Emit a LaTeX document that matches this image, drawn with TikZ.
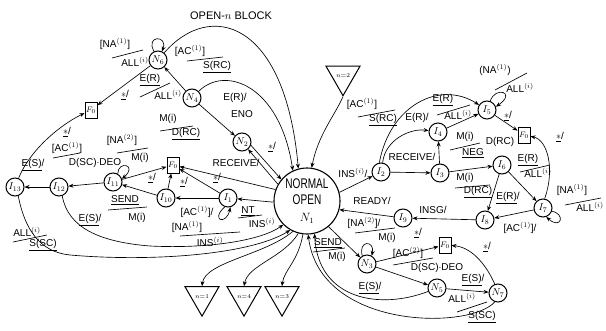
\documentclass[tikz,border=0pt]{standalone}
\usepackage{fontspec}
\setmainfont{Liberation Sans}
\newfontfamily\narrowfont[FakeStretch=0.72]{Liberation Sans}
\usetikzlibrary{arrows.meta,shapes.geometric}
\begin{document}
\begin{tikzpicture}[x=1pt,y=-1pt,
  st/.style={circle,draw,line width=1pt,minimum size=18pt,inner sep=0pt,font=\fontsize{10}{10}\selectfont},
  bigst/.style={circle,draw,line width=1.1pt,minimum size=66pt,inner sep=0pt,align=center,font=\narrowfont\fontsize{14}{15}\selectfont},
  fb/.style={rectangle,draw,line width=1pt,minimum width=12pt,minimum height=16pt,inner sep=0pt,font=\fontsize{8}{8}\selectfont},
  tri/.style={regular polygon,regular polygon sides=3,shape border rotate=180,draw,line width=1pt,minimum size=33pt,inner sep=0pt,font=\fontsize{6}{6}\selectfont},
  lb/.style={inner sep=0pt,font=\fontsize{10}{10}\selectfont},
  ed/.style={line width=0.65pt,-{Stealth[length=5pt,width=4pt]}},
  fr/.style={line width=0.65pt}
]
\useasboundingbox (0,0) rectangle (606,330);
% title
\node[inner sep=0pt,font=\fontsize{11}{11}\selectfont] (title) at (231,16) {OPEN-$n$ BLOCK};
% states
\node[bigst] (N1) at (307,201) {NORMAL\\[1pt]OPEN\\[2pt]{\fontsize{12}{12}\selectfont$N_1$}};
\node[st] (N2) at (242,142) {$N_2$};
\node[st] (N4) at (192,98) {$N_4$};
\node[st] (N6) at (158,60) {$N_6$};
\node[st] (N3) at (367,264) {$N_3$};
\node[st] (N5) at (437,288) {$N_5$};
\node[st] (N7) at (498,293) {$N_7$};
\node[st] (I1) at (228,198) {$I_1$};
\node[st] (I10) at (166,198) {$I_{10}$};
\node[st] (I11) at (113,182) {$I_{11}$};
\node[st] (I12) at (59,187) {$I_{12}$};
\node[st] (I13) at (15,187) {$I_{13}$};
\node[st] (I2) at (381,172) {$I_2$};
\node[st] (I3) at (440,173) {$I_3$};
\node[st] (I4) at (438,132) {$I_4$};
\node[st] (I5) at (487,110) {$I_5$};
\node[st] (I6) at (502,165) {$I_6$};
\node[st] (I7) at (543,208) {$I_7$};
\node[st] (I8) at (485,220) {$I_8$};
\node[st] (I9) at (403,218) {$I_9$};
\node[fb] (F1) at (173,165) {$F_0$};
\node[fb] (F2) at (91,110) {$F_0$};
\node[fb] (F4) at (524,135) {$F_0$};
\node[fb] (F3) at (445,245) {$F_0$};
\node[tri,minimum size=34pt] (t2) at (343,76) {$n{=}2$};
\node[tri] (t1) at (202,296.5) {$n{=}1$};
\node[tri] (t4) at (244,296.5) {$n{=}4$};
\node[tri] (t3) at (282,296.5) {$n{=}3$};
% left connectors
\draw[ed] (I12) -- (I13);
\draw[ed] (I11) -- (I12);
\draw[ed] (I11) -- (F1);
\draw[ed] (I10) -- (I11);
\draw[ed] (I1) -- (I10);
\draw[ed] (N1.182) -- (I1);
\draw[ed] (I10) -- (F1);
\draw[ed] (I1) -- (F1);
\draw[ed] (N1.160) -- (F1);
\draw[ed] (I11.60) .. controls (118,160) and (138,165) .. (I11.20);
\draw[ed] (I1.250) .. controls (210,220) and (226,226) .. (I1.285);
\draw[ed] (I13) .. controls (30,150) and (60,125) .. (F2);
\draw[ed] (N6) -- (F2);
\draw[ed] (N4) -- (N6);
\draw[ed] (N6.115) .. controls (145,35) and (168,35) .. (N6.65);
\draw[ed] (N6) .. controls (210,0) and (285,20) .. (N1.105);
\draw[ed] (N4) .. controls (225,65) and (280,85) .. (N1.115);
\draw[ed] (N4) -- (N2);
\draw[ed] (N2.-20) -- (N1.140);
\draw[ed] (N1.150) -- (N2.-50);
\draw[ed] (t2.south) .. controls (335,115) and (318,135) .. (N1.82);
\draw[ed] (I13.-70) .. controls (25,230) and (40,252) .. (70,255) .. controls (150,262) and (250,255) .. (N1.240);
\draw[ed] (I12.-70) .. controls (68,228) and (100,242) .. (150,246) .. controls (210,249) and (262,240) .. (N1.225);
\draw[ed] (N1.245) .. controls (265,255) and (205,262) .. (t1.north);
\draw[ed] (N1.255) .. controls (283,258) and (248,265) .. (t4.north);
\draw[ed] (N1.263) .. controls (298,262) and (284,270) .. (t3.north);
% right connectors
\draw[ed] (N1.15) -- (I2);
\draw[ed] (I2) -- (I3);
\draw[ed] (I3) -- (I4);
\draw[ed] (I4) -- (I5);
\draw[ed] (I5) -- (F4);
\draw[ed] (I5.70) .. controls (495,86) and (517,92) .. (I5.20);
\draw[ed] (I3) -- (I6);
\draw[ed] (I6) -- (I7);
\draw[ed] (I6) -- (I8);
\draw[ed] (I7) -- (I8);
\draw[ed] (I7.80) .. controls (555,170) and (548,140) .. (F4);
\draw[ed] (I7.-20) .. controls (566,214) and (561,230) .. (I7.-70);
\draw[ed] (I8) -- (I9);
\draw[ed] (I9) -- (N1.-15);
\draw[ed] (I2.80) .. controls (385,140) and (410,128) .. (I4);
\draw[ed] (I2.100) .. controls (390,105) and (440,80) .. (I5);
\draw[ed] (N1.-50) -- (N3);
\draw[ed] (N3.120) .. controls (358,240) and (375,240) .. (N3.60);
\draw[ed] (N3) -- (F3);
\draw[ed] (N3) -- (N5);
\draw[ed] (N5) -- (N7);
\draw[ed] (N7.110) .. controls (485,262) and (470,247) .. (F3);
\draw[ed] (N5) .. controls (380,310) and (318,300) .. (N1.283);
\draw[ed] (N7.250) .. controls (470,330) and (320,330) .. (N1.272);
% labels left
\node[lb] (a1) at (115,44) {[NA$^{(1)}$]};
\node[lb] (a2) at (135,62) {ALL$^{(i)}$};
\draw[fr] (112,58) -- (143,50);
\node[lb] (a3) at (190,51) {[AC$^{(1)}$]};
\node[lb] (a4) at (217,67) {\underline{S(RC)}};
\draw[fr] (187,61) -- (223,57);
\node[lb] (a5) at (150,80) {\underline{E(R)}};
\node[lb] (a6) at (168,95) {ALL$^{(i)}$};
\draw[fr] (140,97) -- (170,83);
\node[lb] (a7) at (125,95) {\underline{$\ast$}/};
\node[lb] (a8) at (168,119) {M(i)};
\node[lb] (a9) at (186,134) {\underline{D(RC)}};
\draw[fr] (160,131) -- (193,126);
\node[lb] (a10) at (235,98) {E(R)/};
\node[lb] (a11) at (242,114) {ENO};
\node[lb] (a12) at (272,147) {\underline{$\ast$}/};
\node[lb] (a13) at (236,163) {RECEIVE/};
\node[lb] (a14) at (217,178) {\underline{$\ast$}/};
\node[lb] (a15) at (184,182) {\underline{$\ast$}/};
\node[lb] (a16) at (152,178) {\underline{$\ast$}/};
\node[lb] (a17) at (122,140) {[NA$^{(2)}$]};
\node[lb] (a18) at (140,158) {M(i)};
\draw[fr] (117,153) -- (148,148);
\node[lb] (a19) at (67,132) {\underline{$\ast$}/};
\node[lb] (a20) at (67,148) {[AC$^{(1)}$]};
\node[lb] (a21) at (33,165) {\underline{E(S)}/};
\node[lb] (a22) at (95,163) {D(SC)$\cdot$DEO};
\draw[fr] (53,158) -- (80,153);
\node[lb] (a23) at (125,200) {\underline{SEND}};
\node[lb] (a24) at (137,218) {M(i)};
\draw[fr] (108,210) -- (147,207);
\node[lb] (a25) at (90,220) {\underline{E(S)}/};
\node[lb] (a26) at (27,232) {ALL$^{(i)}$};
\node[lb] (a27) at (43,245) {\underline{S(SC)}};
\draw[fr] (13,242) -- (47,235);
\node[lb] (a28) at (197,212) {[AC$^{(1)}$]/};
\node[lb] (a29) at (187,227) {[NA$^{(1)}$]};
\node[lb] (a30) at (210,242) {INS$^{(i)}$};
\draw[fr] (180,236) -- (240,232);
\node[lb] (a31) at (248,211) {\underline{NT}};
\node[lb] (a32) at (262,223) {INS$^{(i)}$};
\draw[fr] (238,218) -- (262,215);
% labels right
\node[lb] (b1) at (362,104) {[AC$^{(1)}$]};
\node[lb] (b2) at (383,120) {\underline{S(RC)}};
\draw[fr] (358,117) -- (395,110);
\node[lb] (b3) at (417,118) {E(R)/};
\node[lb] (b4) at (443,100) {\underline{E(R)}};
\node[lb] (b5) at (458,115) {ALL$^{(i)}$};
\draw[fr] (437,115) -- (470,105);
\node[lb] (b6) at (495,70) {(NA$^{(1)}$)};
\node[lb] (b7) at (520,88) {ALL$^{(i)}$};
\draw[fr] (495,90) -- (527,73);
\node[lb] (b8) at (508,116) {\underline{$\ast$}/};
\node[lb] (b9) at (353,173) {INS$^{(i)}$/};
\node[lb] (b10) at (412,157) {RECEIVE/};
\node[lb] (b11) at (465,137) {M(i)};
\node[lb] (b12) at (473,153) {\underline{NEG}};
\draw[fr] (450,150) -- (480,143);
\node[lb] (b13) at (500,142) {D(RC)};
\node[lb] (b14) at (528,160) {\underline{E(R)}};
\node[lb] (b15) at (538,173) {ALL$^{(i)}$};
\draw[fr] (520,172) -- (550,165);
\node[lb] (b16) at (465,178) {M(i)};
\node[lb] (b17) at (478,192) {\underline{D(RC)}};
\draw[fr] (455,188) -- (490,185);
\node[lb] (b18) at (508,198) {\underline{E(R)}/};
\node[lb] (b19) at (572,190) {[NA$^{(1)}$]};
\node[lb] (b20) at (590,207) {ALL$^{(i)}$};
\draw[fr] (565,205) -- (601,198);
\node[lb] (b21) at (560,137) {\underline{$\ast$}/};
\node[lb] (b22) at (433,210) {INSG/};
\node[lb] (b23) at (372,201) {READY/};
\node[lb] (b24) at (364,223) {[NA$^{(2)}$]/};
\node[lb] (b25) at (387,238) {M(i)};
\draw[fr] (355,233) -- (395,228);
\node[lb] (b26) at (520,228) {[AC$^{(1)}$]/};
\node[lb] (b27) at (328,243) {\underline{SEND}};
\node[lb] (b28) at (337,257) {M(i)};
\draw[fr] (313,252) -- (345,248);
\node[lb] (b29) at (418,233) {\underline{$\ast$}/};
\node[lb] (b30) at (408,253) {[AC$^{(2)}$]};
\node[lb] (b31) at (437,268) {D(SC)$\cdot$DEO};
\draw[fr] (393,265) -- (433,258);
\node[lb] (b32) at (473,280) {\underline{E(S)}/};
\node[lb] (b33) at (462,298) {ALL$^{(i)}$};
\node[lb] (b34) at (482,317) {\underline{S(SC)}};
\draw[fr] (457,312) -- (487,302);
\node[lb] (b35) at (487,247) {\underline{$\ast$}/};
\node[lb] (b36) at (370,288) {\underline{E(S)}/};
\end{tikzpicture}
\end{document}
